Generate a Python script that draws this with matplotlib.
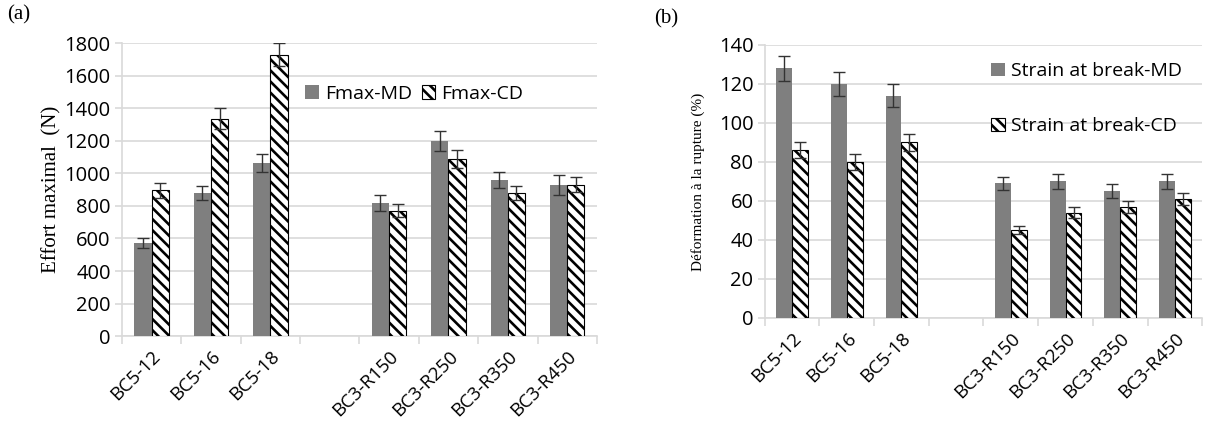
import numpy as np
import matplotlib
matplotlib.use("Agg")
import matplotlib.pyplot as plt

plt.rcParams['hatch.linewidth'] = 1.9
plt.rcParams['font.family'] = ['Open Sans', 'DejaVu Sans']

# category slots; slot 3 is left empty between the two groups
positions = [0, 1, 2, 4, 5, 6, 7]
labels = ["BC5-12", "BC5-16", "BC5-18", "BC3-R150", "BC3-R250", "BC3-R350", "BC3-R450"]

# panel (a): maximal force (N)
fmax_md = [570, 880, 1065, 820, 1200, 960, 930]
fmax_md_err = [30, 45, 55, 50, 60, 50, 60]
fmax_cd = [895, 1335, 1730, 770, 1090, 880, 930]
fmax_cd_err = [45, 65, 70, 40, 55, 45, 45]

# panel (b): strain at break (%)
strain_md = [128, 120, 114, 69, 70, 65, 70]
strain_md_err = [6.5, 6, 6, 3.5, 4, 3.5, 4]
strain_cd = [86, 80, 90, 45, 54, 57, 61]
strain_cd_err = [4, 4, 4.5, 2, 3, 3, 3]

GRAY = "#7f7f7f"
GRID = "#d9d9d9"
width = 0.29


def draw_panel(ax, md, md_err, cd, cd_err, md_label, cd_label, ymax, ystep):
    x = np.array(positions, dtype=float)
    ekw = dict(ecolor="#333333", elinewidth=1.0, capsize=4, capthick=1.0)
    ax.bar(x - width / 2, md, width, color=GRAY, label=md_label,
           yerr=md_err, error_kw=ekw, zorder=3)
    ax.bar(x + width / 2, cd, width, color="white", edgecolor="black",
           hatch="\\" * 3, linewidth=0.8, label=cd_label,
           yerr=cd_err, error_kw=ekw, zorder=3)
    ax.set_xlim(-0.5, 7.5)
    ax.set_ylim(0, ymax)
    ax.set_yticks(np.arange(0, ymax + 1, ystep))
    ax.set_xticks(positions)
    ax.set_xticklabels(labels, rotation=45, ha="right", rotation_mode="anchor", fontsize=13.5)
    ax.set_xticks(np.arange(-0.5, 8, 1), minor=True)
    ax.tick_params(axis="x", which="major", length=0, pad=8)
    ax.tick_params(axis="x", which="minor", length=6, color=GRID, width=1.2)
    ax.tick_params(axis="y", length=5, color=GRID, width=1.2, labelsize=14.5, pad=3)
    ax.yaxis.grid(True, color=GRID, linewidth=1.2, zorder=0)
    ax.set_axisbelow(True)
    for s in ["top", "right"]:
        ax.spines[s].set_visible(False)
    ax.spines["left"].set_color(GRID)
    ax.spines["bottom"].set_color(GRID)
    ax.spines["left"].set_linewidth(1.2)
    ax.spines["bottom"].set_linewidth(1.2)


fig = plt.figure(figsize=(12.06, 4.32), dpi=100)

ax1 = fig.add_axes([0.101, 0.222, 0.394, 0.678])
draw_panel(ax1, fmax_md, fmax_md_err, fmax_cd, fmax_cd_err,
           "Fmax-MD", "Fmax-CD", 1800, 200)
ax1.set_ylabel("Effort maximal  (N)", family="Liberation Serif", fontsize=15, labelpad=2)
ax1.legend(loc="upper left", bbox_to_anchor=(0.37, 0.885), ncol=2, frameon=False,
           fontsize=14, handlelength=0.7, handleheight=0.7, handletextpad=0.3,
           columnspacing=0.5, borderaxespad=0)
fig.text(0.006, 0.955, "(a)", family="Liberation Serif", fontsize=15)

ax2 = fig.add_axes([0.634, 0.264, 0.363, 0.632])
draw_panel(ax2, strain_md, strain_md_err, strain_cd, strain_cd_err,
           "Strain at break-MD", "Strain at break-CD", 140, 20)
ax2.set_ylabel("Déformation à la rupture (%)", family="Liberation Serif", fontsize=11, labelpad=10)
ax2.legend(loc="upper left", bbox_to_anchor=(0.5, 0.965), ncol=1, frameon=False,
           fontsize=14, handlelength=0.7, handleheight=0.7, handletextpad=0.3,
           labelspacing=1.9, borderaxespad=0)
fig.text(0.542, 0.945, "(b)", family="Liberation Serif", fontsize=15)

fig.savefig("out.png", dpi=100)
